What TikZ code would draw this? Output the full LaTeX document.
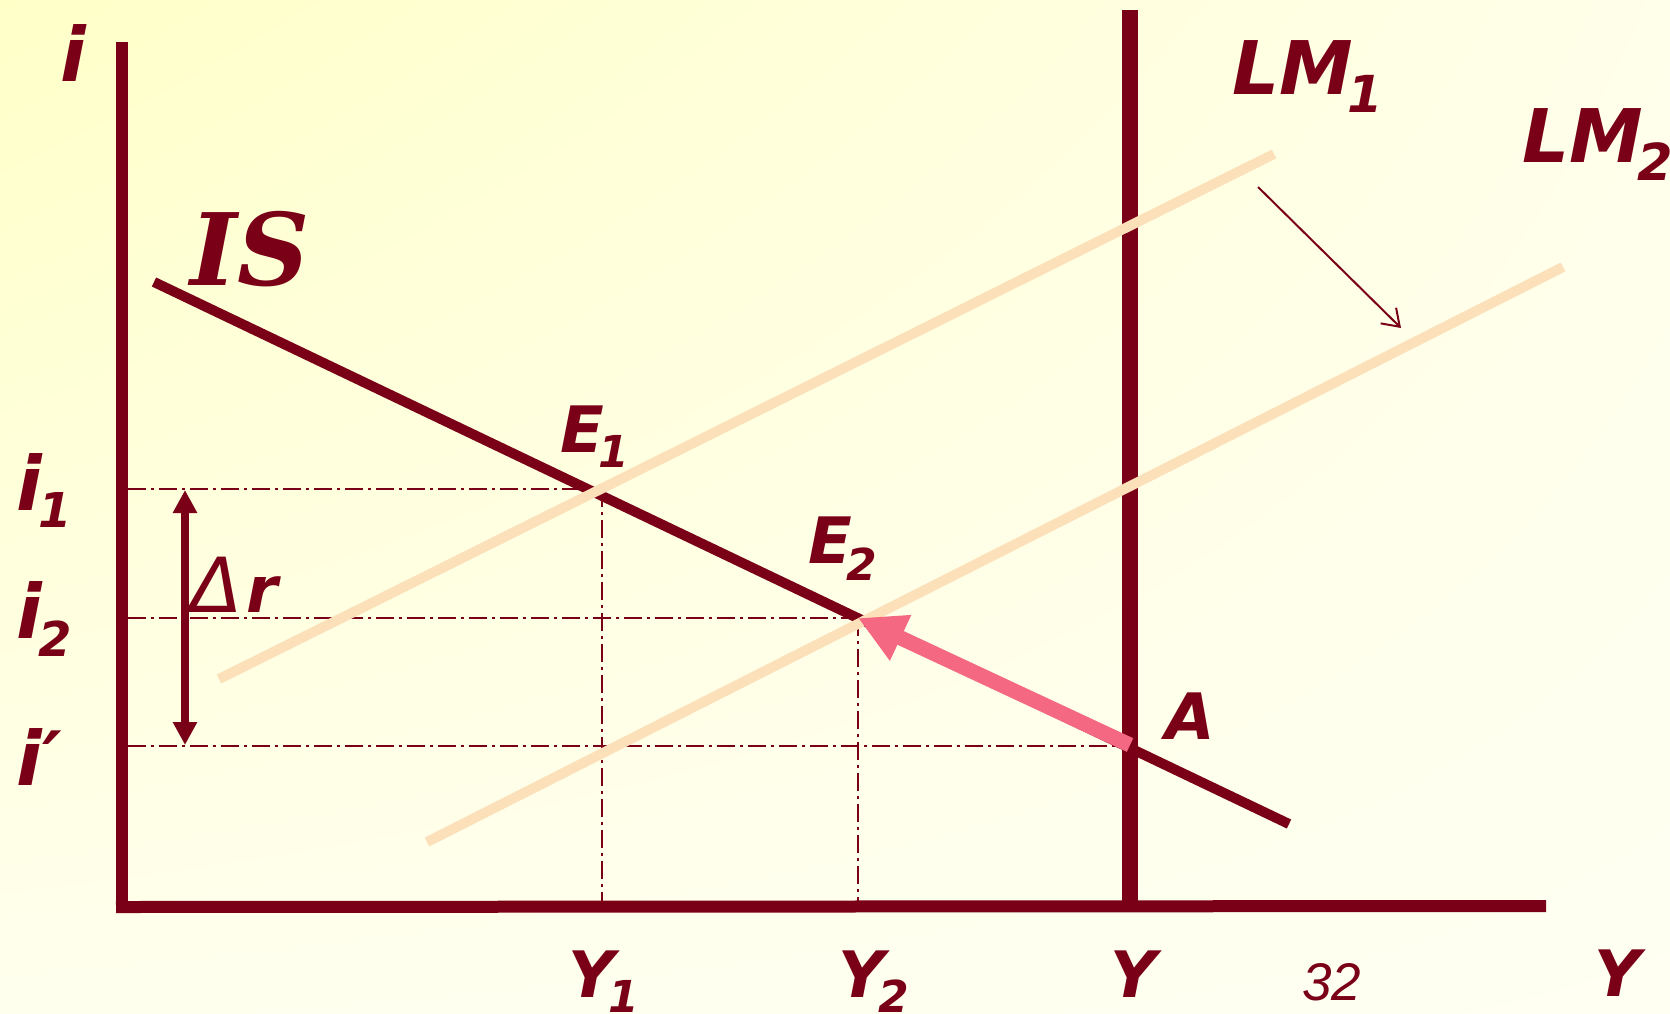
\documentclass[tikz,border=0pt]{standalone}
\usepackage{fontspec}
\setmainfont{DejaVu Sans}
\newfontfamily\isfont{DejaVu Serif}
\newfontfamily\numfont{Liberation Sans}
\usetikzlibrary{arrows.meta,shadings}
\definecolor{dred}{RGB}{122,0,24}
\definecolor{peach}{RGB}{252,224,186}
\definecolor{pinkr}{RGB}{244,104,130}
\definecolor{bgA}{RGB}{255,255,200}
\definecolor{bgB}{RGB}{255,255,234}
\definecolor{bgC}{RGB}{255,255,238}
\definecolor{bgD}{RGB}{255,255,242}
\newcommand\fsz[1]{\fontsize{#1}{#1}\selectfont}
\newcommand\mysub[3]{\raisebox{-#1pt}{\fsz{#2}#3}}
\begin{document}
\begin{tikzpicture}[x=1pt,y=-1pt,
  lab/.style={text=dred, inner sep=0pt, anchor=base west},
  bigl/.style={lab, font=\bfseries\itshape\fsz{64}},
  ilab/.style={lab, font=\bfseries\itshape\fsz{75}},
  guide/.style={dred, line width=2.2pt, dash pattern=on 18pt off 5pt on 3pt off 5pt},
  lmline/.style={peach, line width=10pt},
  thick dark/.style={dred, line width=12pt}]
\useasboundingbox (0,0) rectangle (1670,1013);
\shade[upper left=bgA, upper right=bgB, lower left=bgC, lower right=bgD] (0,0) rectangle (1670,1013);

% coordinates
\coordinate (O) at (122,907);
\coordinate (ytop) at (122,42);
\coordinate (xend) at (1546,906);
\coordinate (ybot) at (122,913);
\coordinate (xstart) at (116,907);
\coordinate (vtop) at (1130,10);
\coordinate (vbot) at (1130,906);
\coordinate (isA) at (154,282);
\coordinate (isB) at (1289,824);
\coordinate (lm1A) at (219,679);
\coordinate (lm1B) at (1274,154);
\coordinate (lm2A) at (427,842);
\coordinate (lm2B) at (1563,267);
\coordinate (E1) at (602,489);
\coordinate (E2) at (858,618);
\coordinate (Apt) at (1130,745);
\coordinate (i1L) at (128,489);
\coordinate (i2L) at (128,618);
\coordinate (ipL) at (128,746);
\coordinate (ipR) at (1122,746);
\coordinate (Y1b) at (602,906);
\coordinate (Y2b) at (858,906);
\coordinate (drT) at (185,490);
\coordinate (drB) at (185,745);
\coordinate (shA) at (1258,187);
\coordinate (shB) at (1401,328);

% guide lines
\draw[guide] (i1L) -- (E1);
\draw[guide] (i2L) -- (E2);
\draw[guide] (ipL) -- (ipR);
\draw[guide] (E1) -- (Y1b);
\draw[guide] (E2) -- (Y2b);

% IS and vertical line
\draw[dred, line width=10pt] (isA) -- (isB);
\draw[dred, line width=16pt] (vtop) -- (vbot);

% LM curves
\draw[lmline] (lm1A) -- (lm1B);
\draw[lmline] (lm2A) -- (lm2B);

% axes
\draw[thick dark] (ytop) -- (ybot);
\draw[thick dark] (xstart) -- (xend);

% arrows
\draw[pinkr, line width=15pt, -{Triangle[length=47pt,width=47pt]}] (Apt) -- (E2);
\draw[dred, line width=2pt, -{Straight Barb[length=16pt,width=22pt]}] (shA) -- (shB);
\draw[dred, line width=8pt, {Triangle[length=23pt,width=23pt]}-{Triangle[length=23pt,width=23pt]}] (drT) -- (drB);

% labels
\node[ilab] (li) at (60,81) {i};
\node[lab, font=\isfont\bfseries\itshape\fsz{100}] (lis) at (190,285) {IS};
\node[ilab] (li1) at (16,510) {i\kern-3pt\mysub{17}{48}{1}};
\node[ilab] (li2) at (16,638) {i\kern-3pt\mysub{18}{48}{2}};
\node[ilab] (lip) at (16,785) {i\kern1pt′};
\node[bigl] (ldr) at (190,612) {{\mdseries\fsz{76}Δ}\kern4pt r};
\node[bigl] (lE1) at (560,452) {E\kern-5pt\mysub{15}{44}{1}};
\node[bigl] (lE2) at (808,563) {E\kern-5pt\mysub{17}{44}{2}};
\node[bigl] (lA) at (1165,739) {A};
\node[lab, font=\bfseries\itshape\fsz{74}] (lLM1) at (1232,94) {LM\kern-6pt\mysub{18}{51}{1}};
\node[lab, font=\bfseries\itshape\fsz{74}] (lLM2) at (1522,162) {LM\kern-6pt\mysub{18}{51}{2}};
\node[bigl] (lY1) at (568,997) {Y\kern-6pt\mysub{15}{44}{1}};
\node[bigl] (lY2) at (838,997) {Y\kern-6pt\mysub{15}{44}{2}};
\node[bigl] (lY) at (1110,997) {Y};
\node[lab, font=\numfont\itshape\fsz{53}] (l32) at (1302,1000) {32};
\node[bigl] (lYax) at (1594,996) {Y};
\end{tikzpicture}
\end{document}
